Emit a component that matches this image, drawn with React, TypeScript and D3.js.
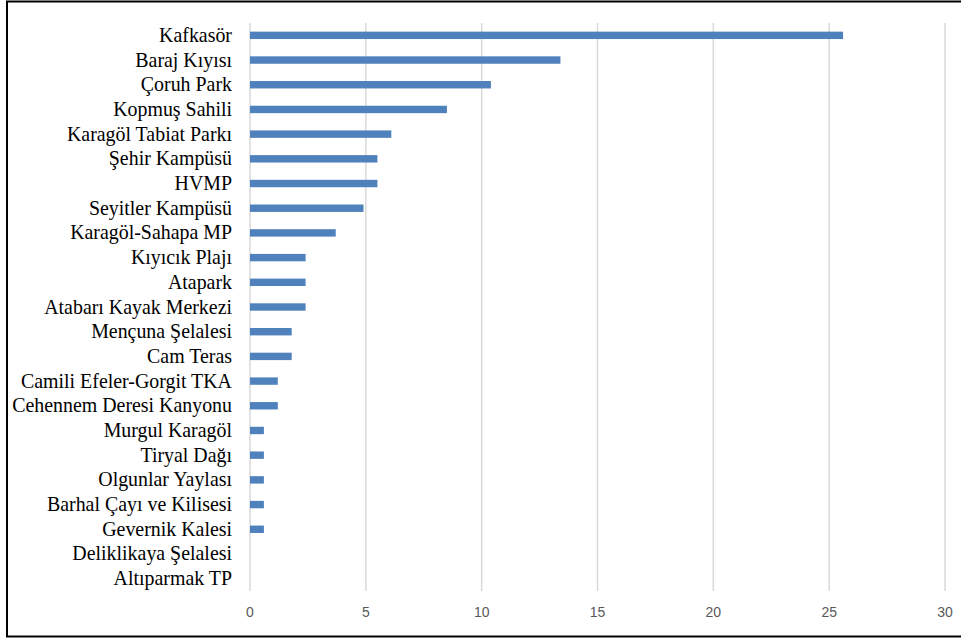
import React from "react";
import * as d3 from "d3";

const categories = [
  "Kafkasör", "Baraj Kıyısı", "Çoruh Park", "Kopmuş Sahili", "Karagöl Tabiat Parkı",
  "Şehir Kampüsü", "HVMP", "Seyitler Kampüsü", "Karagöl-Sahapa MP", "Kıyıcık Plajı",
  "Atapark", "Atabarı Kayak Merkezi", "Mençuna Şelalesi", "Cam Teras",
  "Camili Efeler-Gorgit TKA", "Cehennem Deresi Kanyonu", "Murgul Karagöl", "Tiryal Dağı",
  "Olgunlar Yaylası", "Barhal Çayı ve Kilisesi", "Gevernik Kalesi", "Deliklikaya Şelalesi",
  "Altıparmak TP",
];
const values = [25.6, 13.4, 10.4, 8.5, 6.1, 5.5, 5.5, 4.9, 3.7, 2.4, 2.4, 2.4, 1.8, 1.8, 1.2, 1.2, 0.6, 0.6, 0.6, 0.6, 0.6, 0, 0];
const ticks = [0, 5, 10, 15, 20, 25, 30];

export default function App() {
  const W = 961, H = 639;
  const x = d3.scaleLinear().domain([0, 30]).range([250, 945]);
  const y = d3.scaleBand<string>().domain(categories).range([23, 591]).paddingInner(0.7).paddingOuter(0.35);
  return (
    <svg width={W} height={H} style={{ position: "absolute", left: 0, top: 0, background: "#fff" }}>
      <rect x={0} y={0} width={W} height={H} fill="#fff" />
      {ticks.map((t) => (
        <line key={"g" + t} x1={x(t)} x2={x(t)} y1={23} y2={591} stroke="#d9d9d9" strokeWidth={1.5} />
      ))}
      {categories.map((c, i) => (
        <rect key={"b" + c} x={x(0)} y={y(c)!} width={x(values[i]) - x(0)} height={y.bandwidth()} fill="#4f81bd" />
      ))}
      {categories.map((c) => (
        <text key={"l" + c} x={232} y={y(c)! + y.bandwidth() / 2 + 6.5} textAnchor="end"
          fontFamily="'Liberation Serif', 'Times New Roman', serif" fontSize={19.9} fill="#000">{c}</text>
      ))}
      {ticks.map((t) => (
        <text key={"t" + t} x={x(t)} y={617} textAnchor="middle"
          fontFamily="'Liberation Sans', Arial, sans-serif" fontSize={14} fill="#595959">{t}</text>
      ))}
      <path d={`M${W + 5},1.5 L7,1.5 L7,636.5 L${W + 5},636.5`} fill="none" stroke="#000" strokeWidth={2} />
    </svg>
  );
}
